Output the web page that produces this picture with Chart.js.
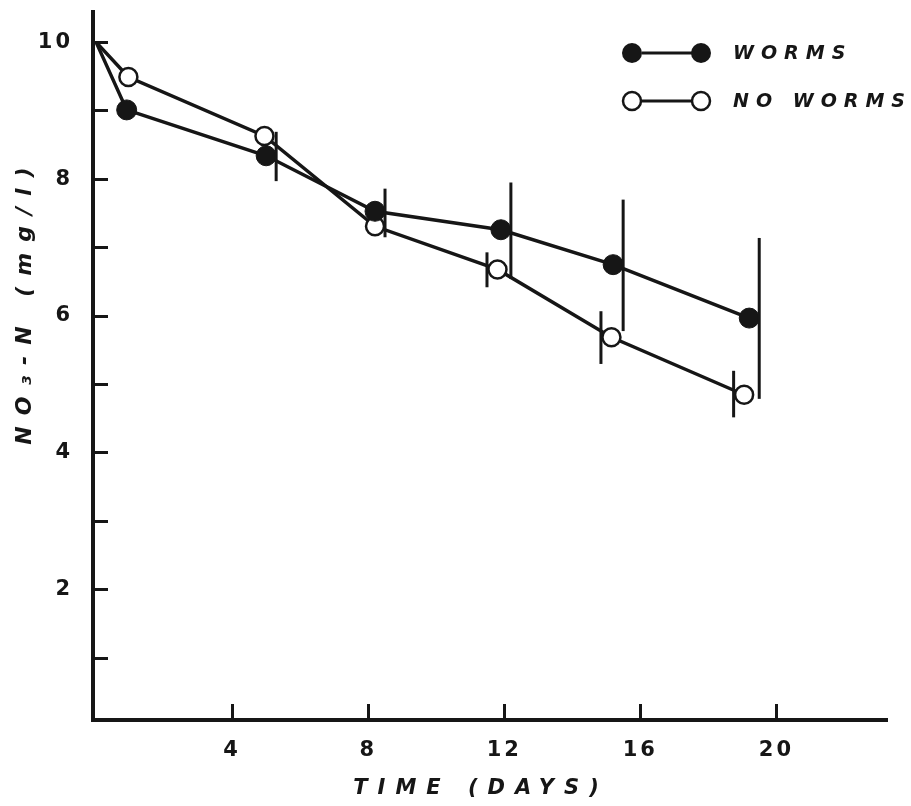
<!DOCTYPE html>
<html>
<head>
<meta charset="utf-8">
<script src="https://cdn.jsdelivr.net/npm/chart.js@4.4.1/dist/chart.umd.min.js"></script>
<style>
  html, body { margin: 0; padding: 0; background: #ffffff; }
  #wrap { width: 911px; height: 806px; position: relative; }
</style>
</head>
<body>
<div id="wrap"><canvas id="c" width="911" height="806"></canvas></div>
<script>
// ---- data ----
const wormsDays      = [0, 0.9, 5.0, 8.2, 11.9, 15.2, 19.2];
const wormsNO3       = [10, 9.01, 8.34, 7.53, 7.26, 6.75, 5.97];
const wormsErrLow    = [null, null, 7.97, 7.15, 6.54, 5.78, 4.79];
const wormsErrHigh   = [null, null, 8.69, 7.86, 7.95, 7.70, 7.14];

const noWormsDays    = [0, 0.95, 4.95, 8.2, 11.8, 15.15, 19.05];
const noWormsNO3     = [10, 9.49, 8.63, 7.31, 6.68, 5.69, 4.85];
const noWormsErrLow  = [null, null, null, null, 6.42, 5.30, 4.52];
const noWormsErrHigh = [null, null, null, null, 6.93, 6.07, 5.20];

const xTickValues     = [4, 8, 12, 16, 20];
const yTickValues     = [1, 2, 3, 4, 5, 6, 7, 8, 9, 10];
const yLabelledTicks  = [2, 4, 6, 8, 10];
const seriesLabels    = ['WORMS', 'NO WORMS'];
const xTitle          = 'TIME (DAYS)';
const yTitle          = 'NO₃-N (mg/l)';

// ---- styling ----
const INK = '#161616';
const FONT = '"DejaVu Sans", "Liberation Sans", sans-serif';

const toPoints = (xs, ys) => xs.map((x, i) => ({ x: x, y: ys[i] }));

const errorBarPlugin = {
  id: 'errorBars',
  afterDatasetsDraw(chart) {
    const ctx = chart.ctx;
    const y = chart.scales.y;
    const specs = [
      { ds: 0, low: wormsErrLow, high: wormsErrHigh, side: 1, off: 10 },
      { ds: 1, low: noWormsErrLow, high: noWormsErrHigh, side: -1, off: 10.5 }
    ];
    ctx.save();
    ctx.strokeStyle = INK;
    ctx.lineWidth = 3;
    specs.forEach(s => {
      const meta = chart.getDatasetMeta(s.ds);
      s.low.forEach((lo, i) => {
        if (lo == null) return;
        const px = meta.data[i].x + s.side * s.off;
        ctx.beginPath();
        ctx.moveTo(px, y.getPixelForValue(s.high[i]));
        ctx.lineTo(px, y.getPixelForValue(lo));
        ctx.stroke();
      });
    });
    ctx.restore();
  }
};

const textPlugin = {
  id: 'customText',
  beforeDraw(chart) {
    chart.ctx.letterSpacing = '3px';
  },
  afterDraw(chart) {
    const ctx = chart.ctx;
    ctx.save();
    ctx.fillStyle = INK;
    ctx.strokeStyle = INK;

    // axis titles
    ctx.font = 'italic bold 21px ' + FONT;
    ctx.letterSpacing = '10px';
    ctx.textBaseline = 'middle';
    ctx.textAlign = 'left';
    let w = ctx.measureText(xTitle).width - 10;
    ctx.fillText(xTitle, 476 - w / 2, 789);

    ctx.save();
    ctx.translate(25, 306);
    ctx.rotate(-Math.PI / 2);
    ctx.font = 'italic bold 22px ' + FONT;
    ctx.letterSpacing = '11px';
    w = ctx.measureText(yTitle).width - 11;
    ctx.fillText(yTitle, -w / 2, 0);
    ctx.restore();

    // legend
    const rows = [
      { y: 53, filled: true, label: seriesLabels[0] },
      { y: 101, filled: false, label: seriesLabels[1] }
    ];
    rows.forEach(r => {
      ctx.lineWidth = 3;
      ctx.beginPath();
      ctx.moveTo(642, r.y);
      ctx.lineTo(692, r.y);
      ctx.stroke();
      [632, 701].forEach(cx => {
        ctx.beginPath();
        if (r.filled) {
          ctx.arc(cx, r.y, 10, 0, Math.PI * 2);
          ctx.fill();
        } else {
          ctx.lineWidth = 2.5;
          ctx.arc(cx, r.y, 9, 0, Math.PI * 2);
          ctx.fillStyle = '#ffffff';
          ctx.fill();
          ctx.fillStyle = INK;
          ctx.stroke();
        }
      });
      ctx.font = 'italic bold 19px ' + FONT;
      ctx.letterSpacing = '7px';
      ctx.textAlign = 'left';
      ctx.textBaseline = 'middle';
      ctx.fillText(r.label, 733, r.y + 1);
    });
    ctx.restore();
  }
};

const tickFont = { family: FONT, weight: 'bold', size: 21 };

new Chart(document.getElementById('c'), {
  type: 'line',
  data: {
    datasets: [
      {
        label: seriesLabels[0],
        data: toPoints(wormsDays, wormsNO3),
        borderColor: INK,
        borderWidth: 3.5,
        tension: 0,
        pointRadius: c => (c.dataIndex === 0 ? 0 : 10),
        pointBackgroundColor: INK,
        pointBorderColor: INK,
        pointBorderWidth: 1
      },
      {
        label: seriesLabels[1],
        data: toPoints(noWormsDays, noWormsNO3),
        borderColor: INK,
        borderWidth: 3.5,
        tension: 0,
        pointRadius: c => (c.dataIndex === 0 ? 0 : 9),
        pointBackgroundColor: '#ffffff',
        pointBorderColor: INK,
        pointBorderWidth: 2.5
      }
    ]
  },
  options: {
    responsive: false,
    animation: false,
    devicePixelRatio: 1,
    layout: { padding: { top: 12, right: 24, left: 0, bottom: 0 } },
    plugins: {
      legend: { display: false },
      tooltip: { enabled: false },
      title: { display: false }
    },
    scales: {
      x: {
        type: 'linear',
        min: -0.09,
        max: 23.25,
        afterBuildTicks: s => { s.ticks = xTickValues.map(v => ({ value: v })); },
        afterFit: s => { s.height = 86; s.paddingLeft = 0; s.paddingRight = 0; },
        border: { display: true, color: INK, width: 4 },
        grid: { drawOnChartArea: false, drawTicks: true, tickLength: -16, tickWidth: 3, tickColor: INK },
        ticks: {
          padding: 34, color: INK, font: tickFont, maxRotation: 0, autoSkip: false,
          callback: v => String(v)
        },
        title: { display: false }
      },
      y: {
        type: 'linear',
        min: 0.1,
        max: 10.44,
        afterBuildTicks: s => { s.ticks = yTickValues.map(v => ({ value: v })); },
        afterFit: s => { s.width = 93; s.paddingTop = 0; s.paddingBottom = 0; },
        border: { display: true, color: INK, width: 4 },
        grid: { drawOnChartArea: false, drawTicks: true, tickLength: -15, tickWidth: 3, tickColor: INK },
        ticks: {
          padding: 35, color: INK, font: tickFont, autoSkip: false,
          callback: v => (yLabelledTicks.includes(v) ? String(v) : '')
        },
        title: { display: false }
      }
    }
  },
  plugins: [errorBarPlugin, textPlugin]
});
</script>
</body>
</html>
